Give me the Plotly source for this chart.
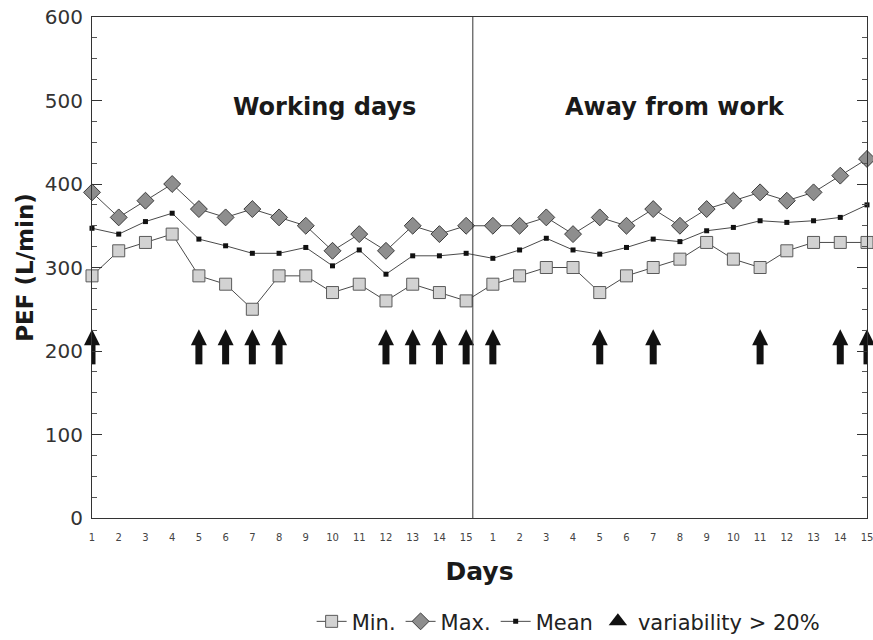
import plotly.graph_objects as go

# ---- data ----
working_days = list(range(1, 16))
away_days = list(range(1, 16))

min_working = [290, 320, 330, 340, 290, 280, 250, 290, 290, 270, 280, 260, 280, 270, 260]
max_working = [390, 360, 380, 400, 370, 360, 370, 360, 350, 320, 340, 320, 350, 340, 350]
mean_working = [347, 340, 355, 365, 334, 326, 317, 317, 324, 302, 321, 292, 314, 314, 317]

min_away = [280, 290, 300, 300, 270, 290, 300, 310, 330, 310, 300, 320, 330, 330, 330]
max_away = [350, 350, 360, 340, 360, 350, 370, 350, 370, 380, 390, 380, 390, 410, 430]
mean_away = [311, 321, 335, 321, 316, 324, 334, 331, 344, 348, 356, 354, 356, 360, 375]

arrow_working_days = [1, 5, 6, 7, 8, 12, 13, 14, 15]
arrow_away_days = [1, 5, 7, 11, 14, 15]

tick_labels = [str(d) for d in working_days] + [str(d) for d in away_days]

# ---- derived positions (sequential day index) ----
n_w = len(working_days)
x_all = list(range(n_w + len(away_days)))
min_all = min_working + min_away
max_all = max_working + max_away
mean_all = mean_working + mean_away

arrow_x = [d - 1 for d in arrow_working_days] + [n_w - 1 + d for d in arrow_away_days]

ARROW_TIP = 226
ARROW_NECK = 209
ARROW_BASE = 184

shaft_x, shaft_y = [], []
for ax in arrow_x:
    shaft_x += [ax, ax, None]
    shaft_y += [ARROW_BASE, ARROW_NECK, None]

LINE_COL = "#4a4a4a"
FONT = "DejaVu Sans"

fig = go.Figure()

fig.add_trace(go.Scatter(
    x=x_all, y=min_all, name="Min.", mode="lines+markers",
    line=dict(color=LINE_COL, width=1),
    marker=dict(symbol="square", size=12, color="#d2d2d2",
                line=dict(color="#5a5a5a", width=1)),
    cliponaxis=False,
))
fig.add_trace(go.Scatter(
    x=x_all, y=max_all, name="Max.", mode="lines+markers",
    line=dict(color=LINE_COL, width=1),
    marker=dict(symbol="diamond", size=13, color="#8e8e8e",
                line=dict(color="#3c3c3c", width=1)),
    cliponaxis=False,
))
fig.add_trace(go.Scatter(
    x=x_all, y=mean_all, name="Mean", mode="lines+markers",
    line=dict(color=LINE_COL, width=1),
    marker=dict(symbol="square", size=5, color="#111111"),
    cliponaxis=False,
))

# arrows: shaft + head
fig.add_trace(go.Scatter(
    x=shaft_x, y=shaft_y, mode="lines", showlegend=False, hoverinfo="skip",
    line=dict(color="#111111", width=7),
    cliponaxis=False,
))
fig.add_trace(go.Scatter(
    x=arrow_x, y=[ARROW_TIP] * len(arrow_x), mode="markers", showlegend=False,
    marker=dict(symbol="arrow-up", size=16, color="#111111"),
    cliponaxis=False,
))
# legend entry for arrows
fig.add_trace(go.Scatter(
    x=[None], y=[None], mode="markers", name="variability > 20%",
    marker=dict(symbol="triangle-up", size=16, color="#111111"),
))

# divider between periods
fig.add_shape(type="line", xref="x", yref="paper", x0=14.25, x1=14.25, y0=0, y1=1,
              line=dict(color="#333333", width=1))

fig.add_annotation(x=8.7, y=492, xref="x", yref="y", text="Working days", showarrow=False,
                   font=dict(family=FONT, size=24, color="#1a1a1a", weight="bold"))
fig.add_annotation(x=21.8, y=492, xref="x", yref="y", text="Away from work", showarrow=False,
                   font=dict(family=FONT, size=24, color="#1a1a1a", weight="bold"))

fig.update_layout(
    width=873, height=640,
    margin=dict(l=92, r=6, t=17, b=122, autoexpand=False),
    paper_bgcolor="white", plot_bgcolor="white",
    font=dict(family=FONT, color="#222222"),
    showlegend=True,
    legend=dict(orientation="h", x=0.615, xanchor="center", y=-0.207, yanchor="middle",
                font=dict(family=FONT, size=21, color="#222222"),
                itemwidth=30, bgcolor="rgba(0,0,0,0)"),
    xaxis=dict(
        range=[0, 29], tickmode="array", tickvals=x_all, ticktext=tick_labels,
        showgrid=False, zeroline=False, showline=True, mirror=True,
        linecolor="#333333", linewidth=1, ticks="", automargin=False,
        tickfont=dict(family=FONT, size=10, color="#444444"),
        ticklabeloverflow="allow", ticklabelstandoff=10,
        title=dict(text="Days", standoff=20,
                   font=dict(family=FONT, size=25, color="#1a1a1a", weight="bold")),
    ),
    yaxis=dict(
        range=[0, 600], dtick=100, tick0=0, automargin=False,
        showgrid=False, zeroline=False, showline=True, mirror="ticks",
        linecolor="#333333", linewidth=1,
        ticks="inside", ticklen=10, tickcolor="#333333",
        minor=dict(dtick=25, ticks="inside", ticklen=5, tickcolor="#555555"),
        tickfont=dict(family=FONT, size=20, color="#333333"),
        ticklabelstandoff=4,
        title=dict(text="PEF (L/min)", standoff=4,
                   font=dict(family=FONT, size=23, color="#1a1a1a", weight="bold")),
    ),
)

fig.write_html("out.html", config={"displayModeBar": False},
               post_script="document.body.style.margin='0';")
